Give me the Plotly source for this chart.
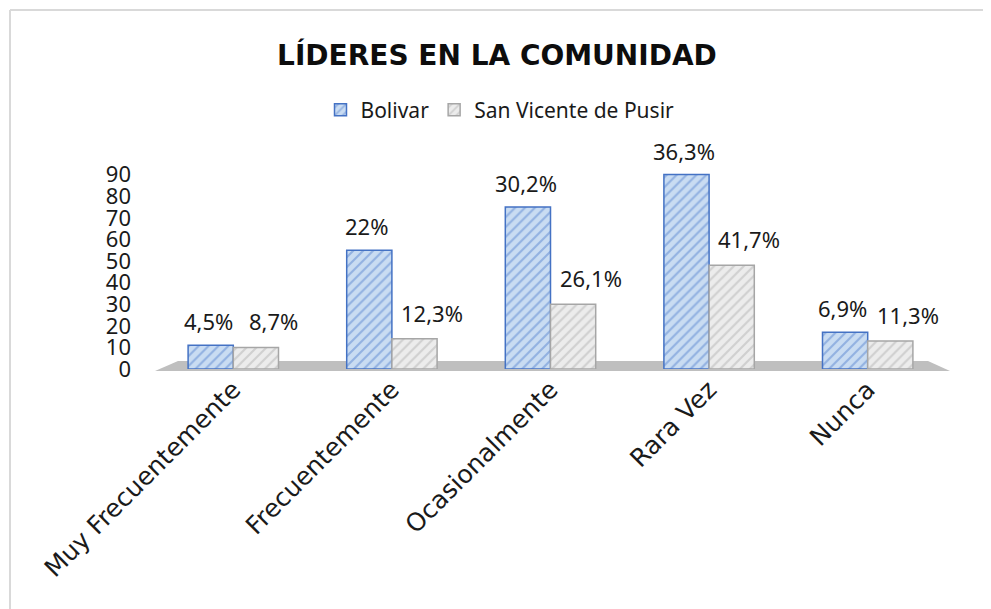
import plotly.graph_objects as go

categories = ["Muy Frecuentemente", "Frecuentemente", "Ocasionalmente", "Rara Vez", "Nunca"]
bolivar = [11, 55, 75, 90, 17]
san_vicente = [10, 14, 30, 48, 13]
bolivar_labels = ["4,5%", "22%", "30,2%", "36,3%", "6,9%"]
san_vicente_labels = ["8,7%", "12,3%", "26,1%", "41,7%", "11,3%"]
y_ticks = [0, 10, 20, 30, 40, 50, 60, 70, 80, 90]

# page body has an 8px margin: work in screen pixels, convert to figure pixels
OFF = 8
W, H = 991 - OFF, 609 - OFF
ML, MR, MT, MB = 154 - OFF, 44, 153 - OFF, 240
PW, PH = W - ML - MR, H - MT - MB

def px(x):
    return (x - OFF - ML) / PW

def py(y):
    return (H - MB - (y - OFF)) / PH

FONT = "Noto Sans"

fig = go.Figure()
fig.add_trace(go.Bar(
    name="Bolivar", x=categories, y=bolivar,
    marker=dict(color="#c9dcf2", line=dict(color="#4472c4", width=1.5),
                pattern=dict(shape="/", fgcolor="#5b86cf", bgcolor="#c9dcf2", size=7, solidity=0.3)),
))
fig.add_trace(go.Bar(
    name="San Vicente de Pusir", x=categories, y=san_vicente,
    marker=dict(color="#ececec", line=dict(color="#a6a6a6", width=1.5),
                pattern=dict(shape="/", fgcolor="#b3b3b3", bgcolor="#ececec", size=7, solidity=0.3)),
))

annotations = []
for i, c in enumerate(categories):
    annotations.append(dict(x=c, y=bolivar[i], text=bolivar_labels[i], xref="x", yref="y",
                            showarrow=False, yanchor="middle", yshift=24, xshift=-25,
                            font=dict(family=FONT, size=22, color="#1a1a1a")))
    annotations.append(dict(x=c, y=san_vicente[i], text=san_vicente_labels[i], xref="x", yref="y",
                            showarrow=False, yanchor="middle", yshift=26, xshift=40,
                            font=dict(family=FONT, size=22, color="#1a1a1a")))

shapes = [
    # floor band
    dict(type="path", xref="paper", yref="paper", layer="below",
         path=f"M {px(155)} {py(371)} L {px(950)} {py(371)} L {px(928)} {py(361)} L {px(178)} {py(361)} Z",
         fillcolor="#bfbfbf", line=dict(width=0)),
    # chart frame (top and left)
    dict(type="line", xref="paper", yref="paper", x0=px(10), x1=px(995), y0=py(10), y1=py(10),
         line=dict(color="#d9d9d9", width=2)),
    dict(type="line", xref="paper", yref="paper", x0=px(10), x1=px(10), y0=py(10), y1=py(615),
         line=dict(color="#d9d9d9", width=2)),
]

fig.update_layout(
    width=W, height=H,
    margin=dict(l=ML, r=MR, t=MT, b=MB),
    paper_bgcolor="white", plot_bgcolor="white",
    barmode="group", bargap=0.43, bargroupgap=0,
    title=dict(text="<b>LÍDERES EN LA COMUNIDAD</b>", x=(497 - OFF) / W, xanchor="center",
               xref="container", yref="container", y=1 - (55 - OFF) / H, yanchor="middle",
               font=dict(family="DejaVu Sans", size=28, color="#0d0d0d")),
    legend=dict(orientation="h", xref="container", yref="container", x=(500 - OFF) / W, xanchor="center",
                y=1 - (110 - OFF) / H, yanchor="middle", font=dict(family=FONT, size=21, color="#1a1a1a"),
                itemwidth=30, traceorder="normal"),
    xaxis=dict(type="category", tickangle=-45, showline=False, showgrid=False, ticks="",
               tickfont=dict(family="DejaVu Sans", size=25, color="#1a1a1a"), range=[-0.5, 4.5]),
    yaxis=dict(range=[0, 100], tickvals=y_ticks, showgrid=False, showline=False, zeroline=False,
               ticks="", ticklabelstandoff=22,
               tickfont=dict(family=FONT, size=22, color="#1a1a1a")),
    annotations=annotations,
    shapes=shapes,
    showlegend=True,
)

fig.write_html("out.html")
